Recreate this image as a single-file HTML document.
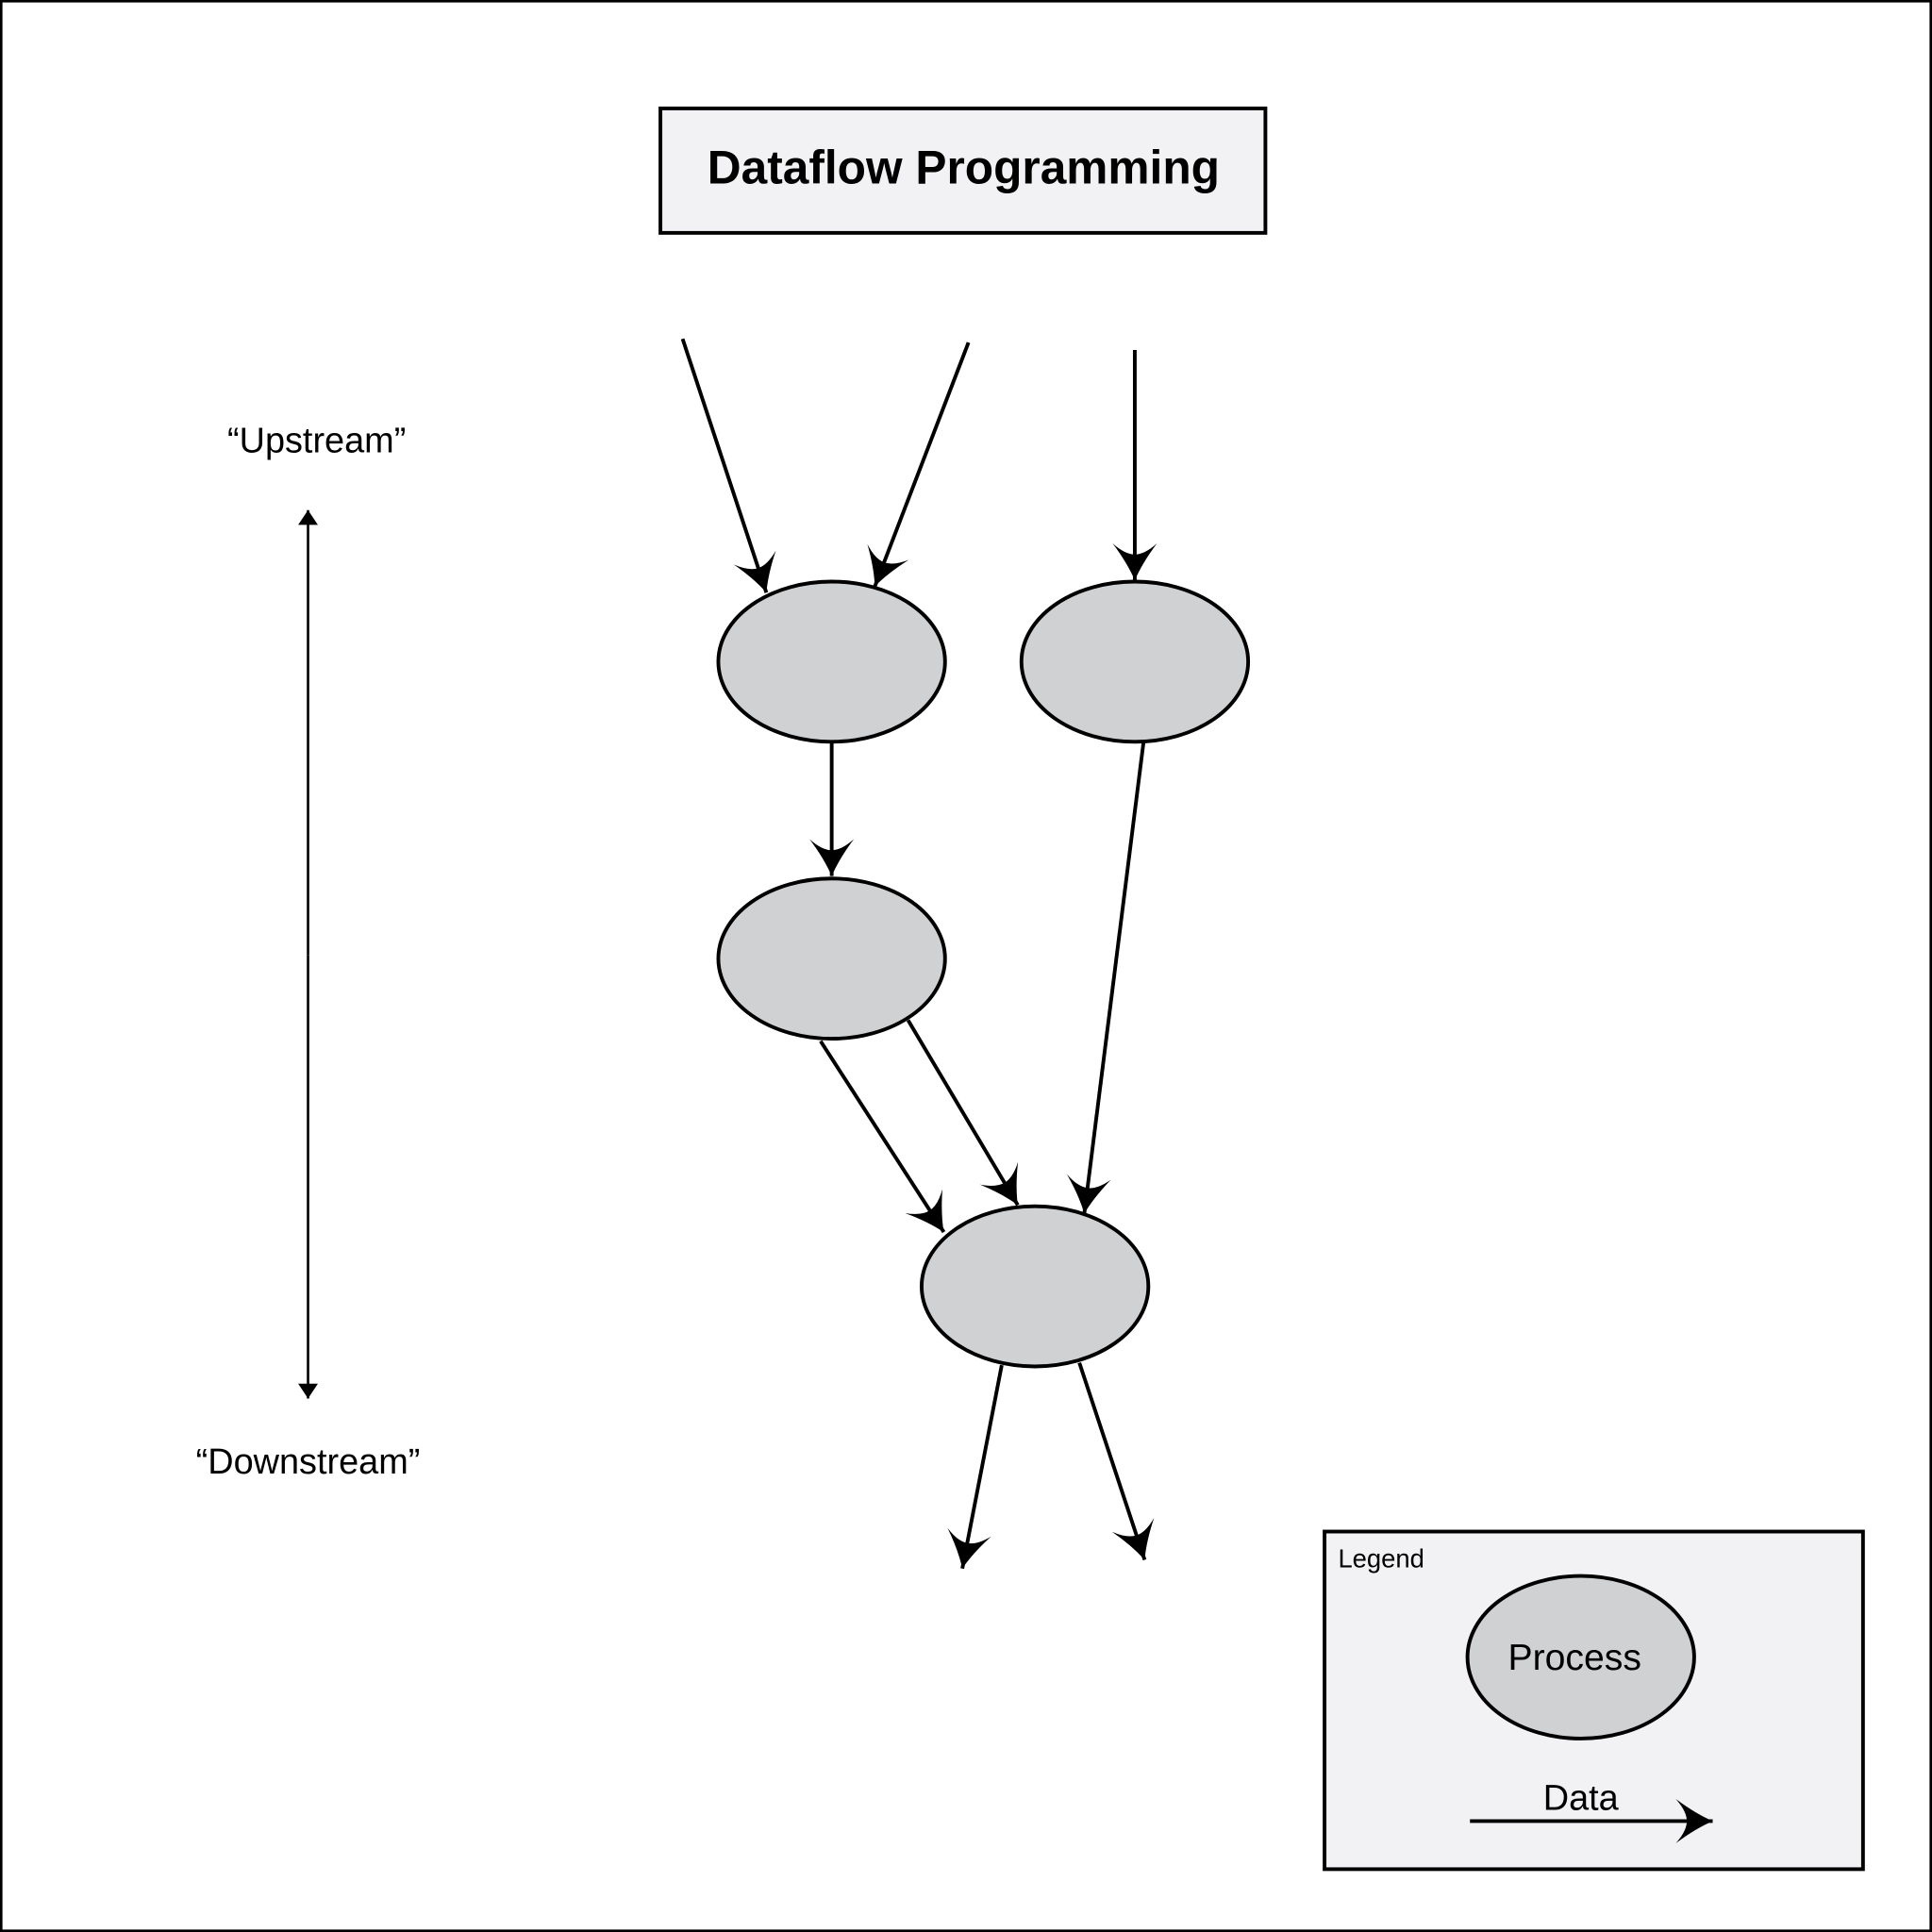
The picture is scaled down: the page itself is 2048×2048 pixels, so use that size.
<!DOCTYPE html>
<html><head><meta charset="utf-8"><style>html,body{margin:0;padding:0;background:#fff}svg{display:block}</style></head>
<body>
<svg width="2048" height="2048" viewBox="0 0 1568 1568" xmlns="http://www.w3.org/2000/svg" font-family="'Liberation Sans', sans-serif">
<defs>
<marker id="a" markerUnits="userSpaceOnUse" viewBox="-32 -20 34 40" markerWidth="34" markerHeight="40" refX="0" refY="0" orient="auto">
<path d="M0,0 Q-14,-6 -30,-18 Q-21,-8 -21,0 Q-21,8 -30,18 Q-14,6 0,0 Z" fill="#000"/>
</marker>
<marker id="t" markerUnits="userSpaceOnUse" viewBox="-14 -10 16 20" markerWidth="16" markerHeight="20" refX="0" refY="0" orient="auto">
<path d="M0,0 L-12,-8 L-12,8 Z" fill="#000"/>
</marker>
</defs>
<rect x="1" y="1" width="1566" height="1566" fill="#fff" stroke="#000" stroke-width="2"/>
<rect x="536" y="88" width="491" height="101" fill="#f2f2f4" stroke="#000" stroke-width="3"/>
<text x="782" y="149" text-anchor="middle" font-size="38" font-weight="bold">Dataflow Programming</text>
<g stroke="#000" stroke-width="3" fill="none" marker-end="url(#a)">
<line x1="554" y1="275" x2="622" y2="481"/>
<line x1="786" y1="278" x2="710" y2="476"/>
<line x1="921" y1="284" x2="921" y2="471"/>
<line x1="675" y1="603" x2="675" y2="711"/>
<line x1="928" y1="603" x2="880" y2="985"/>
<line x1="666" y1="845" x2="766" y2="1000"/>
<line x1="737" y1="828" x2="826" y2="978"/>
<line x1="813" y1="1108" x2="781" y2="1273"/>
<line x1="876" y1="1106" x2="929" y2="1266"/>
</g>
<g fill="#d0d1d3" stroke="#000" stroke-width="3">
<ellipse cx="675" cy="537" rx="92" ry="65"/>
<ellipse cx="921" cy="537" rx="92" ry="65"/>
<ellipse cx="675" cy="778" rx="92" ry="65"/>
<ellipse cx="840" cy="1044" rx="92" ry="65"/>
</g>
<line x1="250" y1="775" x2="250" y2="414" stroke="#000" stroke-width="2" marker-end="url(#t)"/>
<line x1="250" y1="775" x2="250" y2="1135" stroke="#000" stroke-width="2" marker-end="url(#t)"/>
<text x="257" y="367" text-anchor="middle" font-size="29">“Upstream”</text>
<text x="250" y="1196" text-anchor="middle" font-size="29">“Downstream”</text>
<rect x="1075" y="1243" width="437" height="274" fill="#f2f2f4" stroke="#000" stroke-width="3"/>
<text x="1086" y="1272" font-size="21">Legend</text>
<ellipse cx="1283" cy="1345" rx="92" ry="66" fill="#d0d1d3" stroke="#000" stroke-width="3"/>
<text x="1278" y="1355" text-anchor="middle" font-size="30">Process</text>
<text x="1283" y="1469" text-anchor="middle" font-size="29">Data</text>
<line x1="1193" y1="1478" x2="1390" y2="1478" stroke="#000" stroke-width="3" marker-end="url(#a)"/>
</svg>
</body></html>
